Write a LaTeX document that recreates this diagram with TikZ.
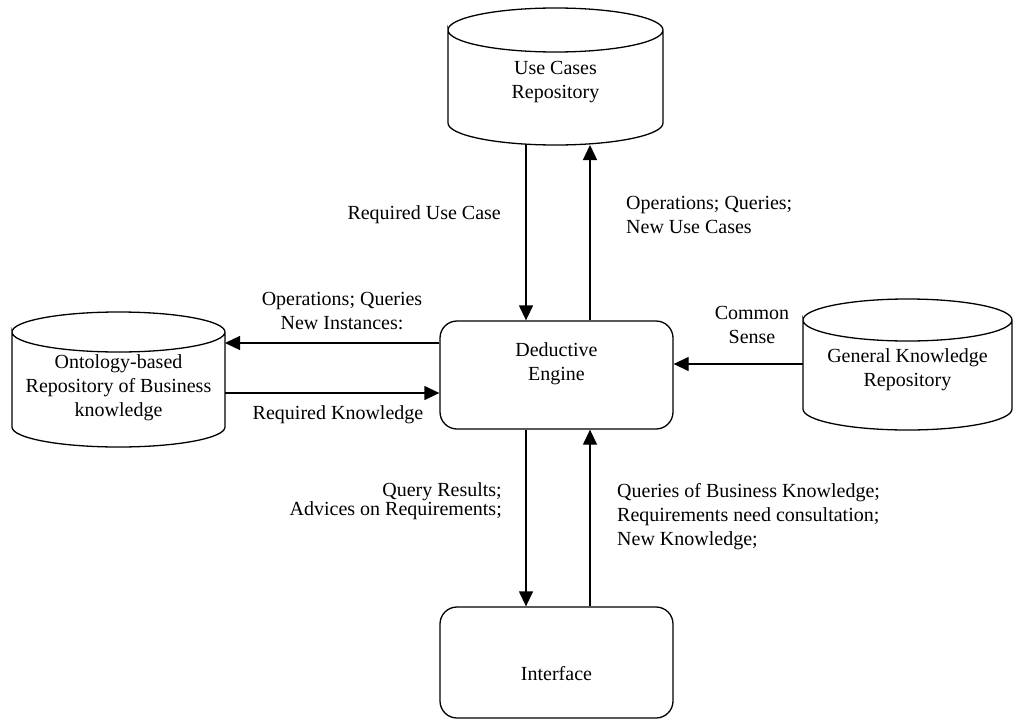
\documentclass[tikz,border=0pt]{standalone}
\usepackage{fontspec}
\setmainfont{Liberation Serif}
\usetikzlibrary{arrows.meta}

\tikzset{
  repo/.style={align=center, inner sep=0pt, outer sep=0pt},
  repoline/.style={line width=1.3pt},
  unit/.style={draw, line width=1.3pt, rounded corners=17pt, align=center,
    minimum width=233pt},
  flow/.style={line width=1.3pt, -{Triangle[length=15pt,width=14pt]}},
  lbl/.style={inner sep=0pt},
}

% outline of a repository drawn round its node: node, half width, ellipse half height
\newcommand{\repooutline}[3]{%
  \draw[repoline] ([yshift=-#3]#1.north west)
      arc[start angle=180, end angle=-180, x radius=#2, y radius=#3]
    -- ([yshift=#3]#1.south west)
      arc[start angle=180, end angle=360, x radius=#2, y radius=#3]
    -- ([yshift=-#3]#1.north east);
}

\begin{document}
\begin{tikzpicture}[x=1pt,y=-1pt,font=\fontsize{20}{24}\selectfont]
\useasboundingbox (0,0) rectangle (1014,720);

% repositories
\node[repo, minimum width=215pt, minimum height=137pt, text height=48pt] (usecase) at (555.5,76.5) {Use Cases\\Repository};
\node[repo, minimum width=213pt, minimum height=135pt, text height=78pt] (onto) at (118.5,379.5) {Ontology-based\\Repository of Business\\knowledge};
\node[repo, minimum width=209pt, minimum height=131pt, text height=49pt] (general) at (907.5,364.5) {General Knowledge\\Repository};
\repooutline{usecase}{107.5pt}{22pt}
\repooutline{onto}{106.5pt}{20pt}
\repooutline{general}{104.5pt}{21pt}

% engine and interface
\node[unit, minimum height=108pt, text depth=27pt] (engine) at (556.5,375) {Deductive\\Engine};
\node[unit, minimum height=111pt, text height=36pt, text depth=0pt] (iface) at (556.5,662.5) {Interface};

% use cases <-> engine
\coordinate (ua) at ([xshift=-30.5pt]engine.north);
\coordinate (ub) at ([xshift=33.5pt]engine.north);
\draw[flow] (ua |- usecase.south) -- (ua);
\draw[flow] (ub) -- (ub |- usecase.south);
\node[lbl, anchor=east] at (501,215) {Required Use Case};
\node[lbl, anchor=west, align=left] at (626,215) {Operations; Queries;\\New Use Cases};

% ontology <-> engine
\coordinate (oa) at ([yshift=32pt]engine.west);
\coordinate (ob) at ([yshift=-18pt]engine.west);
\draw[flow] (oa) -- (oa -| onto.east);
\draw[flow] (ob -| onto.east) -- (ob);
\node[lbl, align=center] at (342,311) {Operations; Queries\\New Instances:};
\node[lbl] at (338,415) {Required Knowledge};

% general knowledge -> engine
\coordinate (ga) at ([yshift=11pt]engine.east);
\draw[flow] (ga -| general.west) -- (ga);
\node[lbl, align=center] at (752,325) {Common\\Sense};

% engine <-> interface
\coordinate (la) at ([xshift=-30.5pt]engine.south);
\coordinate (lb) at ([xshift=33.5pt]engine.south);
\draw[flow] (la) -- (la |- iface.north);
\draw[flow] (lb |- iface.north) -- (lb);
\node[lbl, anchor=east, align=right, font=\fontsize{20}{19}\selectfont] at (502,501) {Query Results;\\Advices on Requirements;};
\node[lbl, anchor=west, align=left] at (617,517) {Queries of Business Knowledge;\\Requirements need consultation;\\New Knowledge;};
\end{tikzpicture}
\end{document}
